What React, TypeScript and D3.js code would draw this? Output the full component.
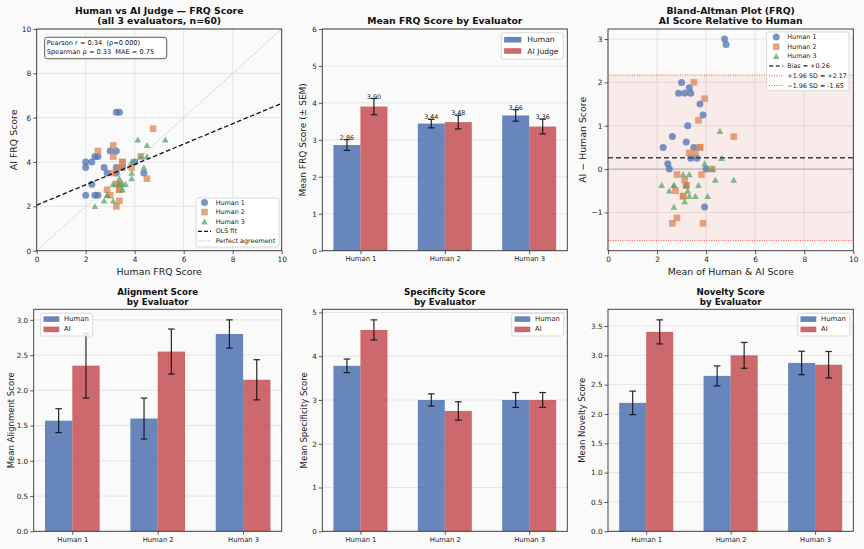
import { useEffect, useRef } from "react";
import * as d3 from "d3";

const FONT = "'DejaVu Sans', sans-serif";
const BLUE = "#4C72B0";
const ORANGE = "#DD8452";
const GREEN = "#55A868";
const RED = "#C44E52";

const evaluators = ["Human 1", "Human 2", "Human 3"];

// FRQ score per question, human rater vs AI judge (20 questions per rater)
const h1Human = [3.25, 3.375, 2, 2, 2.25, 2.375, 2.5, 3, 3.25, 2.75, 2.25, 2, 2.875, 3.25, 3.25, 3.5, 2.375, 2.5, 4, 4.375];
const h1AI = [6.25, 6.25, 4, 3.75, 4, 4.25, 4.25, 4.5, 4.5, 3.75, 3, 2.5, 3.5, 3.75, 3.5, 3.75, 2.5, 2.5, 4, 3.5];
const h2Human = [2.5, 3.125, 3.125, 4.75, 3.5, 3.125, 3.375, 4.25, 2.875, 3.875, 3.25, 3.375, 3, 3.375, 3.375, 3.25, 4.5, 3.5, 3.375, 3.375];
const h2AI = [4.5, 4.75, 4.25, 5.5, 4, 3.5, 3.75, 4.25, 2.75, 3.75, 3, 3, 2.5, 2.75, 2.25, 2, 3.25, 4, 3, 2.75];
const h3Human = [4.125, 4.5, 3.875, 4.25, 3.125, 3.375, 4.5, 5.25, 2.375, 2.875, 3.375, 3.875, 2.75, 3.5, 3.625, 3.875, 4.375, 3.5, 3.125, 2.875];
const h3AI = [5, 4.75, 4, 4.25, 3, 3.25, 4.25, 5, 2, 2.5, 3, 3.5, 2.25, 3, 3, 3.25, 3.75, 2.75, 2.25, 2.5];

const statsLines = ["Pearson r = 0.34  (p=0.000)", "Spearman ρ = 0.33  MAE = 0.75"];

// Bland-Altman summary
const bias = 0.26;
const loaHigh = 2.17;
const loaLow = -1.65;

// Mean FRQ by evaluator (± SEM)
const frqHuman = [2.86, 3.44, 3.66];
const frqAI = [3.9, 3.48, 3.36];
const frqHumanSem = [0.145, 0.115, 0.155];
const frqAISem = [0.22, 0.185, 0.2];

const alignHuman = [1.57, 1.6, 2.8];
const alignAI = [2.35, 2.55, 2.15];
const alignHumanSem = [0.17, 0.29, 0.2];
const alignAISem = [0.46, 0.32, 0.285];

const specHuman = [3.78, 3.0, 3.0];
const specAI = [4.6, 2.75, 3.0];
const specHumanSem = [0.155, 0.14, 0.17];
const specAISem = [0.23, 0.21, 0.17];

const novHuman = [2.19, 2.65, 2.87];
const novAI = [3.4, 3.0, 2.84];
const novHumanSem = [0.2, 0.17, 0.2];
const novAISem = [0.205, 0.22, 0.225];

type Box = { left: number; right: number; top: number; bottom: number };
type Sel = d3.Selection<SVGGElement, unknown, null, undefined>;

const layout: Record<string, Box> = {
  scatter: { left: 36.7, right: 281.7, top: 29, bottom: 250.7 },
  frq: { left: 322.3, right: 567.3, top: 29, bottom: 250.7 },
  bland: { left: 608, right: 853.3, top: 29, bottom: 250.7 },
  align: { left: 33.7, right: 281.7, top: 309.3, bottom: 531.3 },
  spec: { left: 322.3, right: 567.3, top: 309.3, bottom: 531.3 },
  novelty: { left: 608, right: 853.3, top: 309.3, bottom: 531.3 },
};

const series = [
  { label: "Human 1", kind: "circle", color: BLUE, human: h1Human, ai: h1AI },
  { label: "Human 2", kind: "square", color: ORANGE, human: h2Human, ai: h2AI },
  { label: "Human 3", kind: "triangle", color: GREEN, human: h3Human, ai: h3AI },
];

const minus = (v: number, f: (n: number) => string) => (v < 0 ? "\u2212" + f(-v) : f(v));

function marker(g: Sel, kind: string, cx: number, cy: number, color: string, opacity = 0.75) {
  if (kind === "circle") {
    g.append("circle").attr("cx", cx).attr("cy", cy).attr("r", 3.5).attr("fill", color).attr("opacity", opacity);
  } else if (kind === "square") {
    g.append("rect").attr("x", cx - 3.3).attr("y", cy - 3.3).attr("width", 6.6).attr("height", 6.6)
      .attr("fill", color).attr("opacity", opacity);
  } else {
    const s = 3.4;
    g.append("path").attr("d", `M${cx},${cy - s}L${cx - s},${cy + s * 0.8}L${cx + s},${cy + s * 0.8}Z`)
      .attr("fill", color).attr("opacity", opacity);
  }
}

function frame(g: Sel, b: Box) {
  g.append("rect").attr("x", b.left).attr("y", b.top)
    .attr("width", b.right - b.left).attr("height", b.bottom - b.top)
    .attr("fill", "none").attr("stroke", "#333").attr("stroke-width", 0.9);
}

function styleAxis(a: Sel, size: number) {
  a.select(".domain").remove();
  a.selectAll(".tick line").attr("stroke", "#333").attr("stroke-width", 0.8);
  a.selectAll(".tick text").attr("fill", "#222").attr("font-size", size).attr("font-family", FONT);
}

function title(g: Sel, cx: number, lines: string[], y0: number, size: number, lh: number) {
  lines.forEach((t, i) => {
    g.append("text").attr("x", cx).attr("y", y0 + i * lh).attr("text-anchor", "middle")
      .attr("dominant-baseline", "central").attr("font-weight", "bold").attr("font-size", size)
      .attr("fill", "#111").text(t);
  });
}

function yLabel(g: Sel, x: number, cy: number, text: string, size: number) {
  g.append("text").attr("transform", `translate(${x},${cy}) rotate(-90)`).attr("text-anchor", "middle")
    .attr("dominant-baseline", "central").attr("font-size", size).attr("fill", "#222").text(text);
}

function xLabel(g: Sel, cx: number, y: number, text: string, size: number) {
  g.append("text").attr("x", cx).attr("y", y).attr("text-anchor", "middle")
    .attr("dominant-baseline", "central").attr("font-size", size).attr("fill", "#222").text(text);
}

type LegendItem = { label: string; kind: string; color: string; dash?: string; width?: number };
type LegendGeo = { x: number; y: number; w: number; h: number; row0: number; rowH: number; hx0: number; hx1: number; tx: number; font: number };

function legend(g: Sel, geo: LegendGeo, items: LegendItem[]) {
  g.append("rect").attr("x", geo.x).attr("y", geo.y).attr("width", geo.w).attr("height", geo.h)
    .attr("rx", 2).attr("fill", "#ffffff").attr("fill-opacity", 0.85).attr("stroke", "#d0d0d0").attr("stroke-width", 0.8);
  items.forEach((it, i) => {
    const cy = geo.y + geo.row0 + i * geo.rowH;
    const x0 = geo.x + geo.hx0;
    const x1 = geo.x + geo.hx1;
    if (it.kind === "line") {
      g.append("line").attr("x1", x0).attr("x2", x1).attr("y1", cy).attr("y2", cy)
        .attr("stroke", it.color).attr("stroke-width", it.width ?? 1).attr("stroke-dasharray", it.dash ?? null);
    } else if (it.kind === "patch") {
      g.append("rect").attr("x", x0).attr("y", cy - 2.8).attr("width", x1 - x0).attr("height", 5.6)
        .attr("fill", it.color).attr("opacity", 0.85);
    } else {
      marker(g, it.kind, (x0 + x1) / 2, cy, it.color);
    }
    g.append("text").attr("x", geo.x + geo.tx).attr("y", cy).attr("dominant-baseline", "central")
      .attr("font-size", geo.font).attr("fill", "#222").text(it.label);
  });
}

function grid(g: Sel, b: Box, x: d3.ScaleLinear<number, number> | null, xt: number[], y: d3.ScaleLinear<number, number>, yt: number[]) {
  const gg = g.append("g").attr("stroke", "#e4e4e4").attr("stroke-width", 1);
  if (x) xt.forEach((v) => gg.append("line").attr("x1", x(v)).attr("x2", x(v)).attr("y1", b.top).attr("y2", b.bottom));
  yt.forEach((v) => gg.append("line").attr("x1", b.left).attr("x2", b.right).attr("y1", y(v)).attr("y2", y(v)));
}

function drawScatter(g: Sel) {
  const b = layout.scatter;
  const x = d3.scaleLinear().domain([0, 10]).range([b.left, b.right]);
  const y = d3.scaleLinear().domain([0, 10]).range([b.bottom, b.top]);
  const ticks = d3.range(0, 11, 2);
  grid(g, b, x, ticks, y, ticks);

  series.forEach((s) => s.human.forEach((h, i) => marker(g, s.kind, x(h), y(s.ai[i]), s.color)));

  // least-squares fit over all raters
  const xs = series.flatMap((s) => s.human);
  const ys = series.flatMap((s) => s.ai);
  const mx = d3.mean(xs)!;
  const my = d3.mean(ys)!;
  const slope = d3.sum(xs, (v, i) => (v - mx) * (ys[i] - my)) / d3.sum(xs, (v) => (v - mx) ** 2);
  const icpt = my - slope * mx;

  g.append("line").attr("x1", x(0)).attr("y1", y(0)).attr("x2", x(10)).attr("y2", y(10))
    .attr("stroke", "#999").attr("stroke-width", 0.8).attr("stroke-dasharray", "1,1.5");
  g.append("line").attr("x1", x(0)).attr("y1", y(icpt)).attr("x2", x(10)).attr("y2", y(icpt + slope * 10))
    .attr("stroke", "#111").attr("stroke-width", 1.3).attr("stroke-dasharray", "4.5,2.5");

  frame(g, b);
  const ax = g.append("g").attr("transform", `translate(0,${b.bottom})`)
    .call(d3.axisBottom(x).tickValues(ticks).tickFormat((d) => String(d)).tickSize(3.5).tickPadding(2.5));
  styleAxis(ax, 7.4);
  const ay = g.append("g").attr("transform", `translate(${b.left},0)`)
    .call(d3.axisLeft(y).tickValues(ticks).tickFormat((d) => String(d)).tickSize(3.5).tickPadding(2));
  styleAxis(ay, 7.4);

  title(g, (b.left + b.right) / 2, ["Human vs AI Judge — FRQ Score", "(all 3 evaluators, n=60)"], 10, 9.3, 10.7);
  xLabel(g, (b.left + b.right) / 2, 271.7, "Human FRQ Score", 9.4);
  yLabel(g, 13.3, (b.top + b.bottom) / 2, "AI FRQ Score", 9.4);

  g.append("rect").attr("x", 44.7).attr("y", 37.3).attr("width", 122).attr("height", 21.4).attr("rx", 2.5)
    .attr("fill", "#fff").attr("stroke", "#333").attr("stroke-width", 0.8);
  statsLines.forEach((t, i) => {
    g.append("text").attr("x", 46.8).attr("y", 43 + i * 9.2).attr("dominant-baseline", "central")
      .style("white-space", "pre").attr("font-size", 6.6).attr("fill", "#111").text(t);
  });

  legend(g, { x: 196, y: 198, w: 83, h: 49, row0: 4.5, rowH: 9.6, hx0: 2, hx1: 15, tx: 19.7, font: 6.4 }, [
    ...series.map((s) => ({ label: s.label, kind: s.kind, color: s.color })),
    { label: "OLS fit", kind: "line", color: "#111", dash: "4,2", width: 1.3 },
    { label: "Perfect agreement", kind: "line", color: "#999", dash: "1,1.5", width: 0.8 },
  ]);
}

function drawBland(g: Sel) {
  const b = layout.bland;
  const means = series.map((s) => s.human.map((h, i) => (h + s.ai[i]) / 2));
  const diffs = series.map((s) => s.human.map((h, i) => s.ai[i] - h));
  const lo = Math.min(d3.min(diffs.flat())!, loaLow);
  const hi = Math.max(d3.max(diffs.flat())!, loaHigh);
  const pad = (hi - lo) * 0.05;
  const x = d3.scaleLinear().domain([0, 10]).range([b.left, b.right]);
  const y = d3.scaleLinear().domain([lo - pad, hi + pad]).range([b.bottom, b.top]);
  const xt = d3.range(0, 11, 2);
  const yt = [-1, 0, 1, 2, 3];
  grid(g, b, x, xt, y, yt);

  g.append("rect").attr("x", b.left).attr("width", b.right - b.left)
    .attr("y", y(loaHigh)).attr("height", y(loaLow) - y(loaHigh)).attr("fill", "#ff3030").attr("opacity", 0.07);
  g.append("line").attr("x1", b.left).attr("x2", b.right).attr("y1", y(0)).attr("y2", y(0))
    .attr("stroke", "#aaa").attr("stroke-width", 1);

  series.forEach((s, k) => means[k].forEach((m, i) => marker(g, s.kind, x(m), y(diffs[k][i]), s.color)));

  g.append("line").attr("x1", b.left).attr("x2", b.right).attr("y1", y(bias)).attr("y2", y(bias))
    .attr("stroke", "#444").attr("stroke-width", 1.5).attr("stroke-dasharray", "5,3");
  [loaHigh, loaLow].forEach((v) => {
    g.append("line").attr("x1", b.left).attr("x2", b.right).attr("y1", y(v)).attr("y2", y(v))
      .attr("stroke", "#ff2020").attr("stroke-opacity", 0.75).attr("stroke-width", 1).attr("stroke-dasharray", "1,1.4");
  });

  frame(g, b);
  const ax = g.append("g").attr("transform", `translate(0,${b.bottom})`)
    .call(d3.axisBottom(x).tickValues(xt).tickFormat((d) => String(d)).tickSize(3.5).tickPadding(2.5));
  styleAxis(ax, 7.4);
  const ay = g.append("g").attr("transform", `translate(${b.left},0)`)
    .call(d3.axisLeft(y).tickValues(yt).tickFormat((d) => minus(+d, String)).tickSize(3.5).tickPadding(2));
  styleAxis(ay, 7.4);

  title(g, (b.left + b.right) / 2, ["Bland-Altman Plot (FRQ)", "AI Score Relative to Human"], 10, 9.3, 10.7);
  xLabel(g, (b.left + b.right) / 2, 271.7, "Mean of Human & AI Score", 9.4);
  yLabel(g, 582.3, (b.top + b.bottom) / 2, "AI \u2212 Human Score", 9.4);

  const f2 = (v: number) => v.toFixed(2);
  legend(g, { x: 766.7, y: 32, w: 82.3, h: 58.7, row0: 5, rowH: 9.7, hx0: 2.5, hx1: 16.5, tx: 20.6, font: 6.4 }, [
    ...series.map((s) => ({ label: s.label, kind: s.kind, color: s.color })),
    { label: `Bias = +${f2(bias)}`, kind: "line", color: "#444", dash: "4,2.5", width: 1.5 },
    { label: `+1.96 SD = +${f2(loaHigh)}`, kind: "line", color: "#ff5050", dash: "1,1.4", width: 1 },
    { label: `\u22121.96 SD = ${f2(loaLow)}`, kind: "line", color: "#ff5050", dash: "1,1.4", width: 1 },
  ]);
}

type BarCfg = {
  box: Box;
  human: number[];
  ai: number[];
  humanSem: number[];
  aiSem: number[];
  yMax?: number;
  yStep: number;
  yFmt: (v: number) => string;
  titleLines: string[];
  titleY: number;
  titleSize: number;
  yLabelText: string;
  yLabelX: number;
  yLabelSize: number;
  legendLabels: string[];
  legendGeo: LegendGeo;
  valueLabels?: boolean;
};

function drawBars(g: Sel, c: BarCfg) {
  const b = c.box;
  const w = 0.32;
  const span = 2 + 2 * w;
  const x = d3.scaleLinear().domain([-w - span * 0.05, 2 + w + span * 0.05]).range([b.left, b.right]);
  const top = c.yMax ?? d3.max([...c.human.map((v, i) => v + c.humanSem[i]), ...c.ai.map((v, i) => v + c.aiSem[i])])! * 1.05;
  const y = d3.scaleLinear().domain([0, top]).range([b.bottom, b.top]);
  const yt = d3.range(0, top + 1e-9, c.yStep);
  grid(g, b, null, [], y, yt);

  const groups = [
    { vals: c.human, sem: c.humanSem, color: BLUE, off: -w },
    { vals: c.ai, sem: c.aiSem, color: RED, off: 0 },
  ];
  groups.forEach((gr) => {
    gr.vals.forEach((v, i) => {
      g.append("rect").attr("x", x(i + gr.off)).attr("width", x(i + gr.off + w) - x(i + gr.off))
        .attr("y", y(v)).attr("height", y(0) - y(v)).attr("fill", gr.color).attr("opacity", 0.85);
    });
  });
  groups.forEach((gr) => {
    gr.vals.forEach((v, i) => {
      const cx = x(i + gr.off + w / 2);
      const e = g.append("g").attr("stroke", "#111").attr("stroke-width", 1.2).attr("stroke-opacity", 0.9);
      e.append("line").attr("x1", cx).attr("x2", cx).attr("y1", y(v - gr.sem[i])).attr("y2", y(v + gr.sem[i]));
      [v - gr.sem[i], v + gr.sem[i]].forEach((t) =>
        e.append("line").attr("x1", cx - 3.3).attr("x2", cx + 3.3).attr("y1", y(t)).attr("y2", y(t)));
      if (c.valueLabels) {
        g.append("text").attr("x", cx).attr("y", y(v + gr.sem[i] + 0.05)).attr("text-anchor", "middle")
          .attr("dominant-baseline", "central").attr("font-size", 6.4).attr("fill", "#222").text(v.toFixed(2));
      }
    });
  });

  frame(g, b);
  const ax = g.append("g").attr("transform", `translate(0,${b.bottom})`)
    .call(d3.axisBottom(x).tickValues([0, 1, 2]).tickFormat((d) => evaluators[+d]).tickSize(3.5).tickPadding(2));
  styleAxis(ax, 6.8);
  const ay = g.append("g").attr("transform", `translate(${b.left},0)`)
    .call(d3.axisLeft(y).tickValues(yt).tickFormat((d) => c.yFmt(+d)).tickSize(3.5).tickPadding(2));
  styleAxis(ay, 7.2);

  title(g, (b.left + b.right) / 2, c.titleLines, c.titleY, c.titleSize, 10);
  yLabel(g, c.yLabelX, (b.top + b.bottom) / 2, c.yLabelText, c.yLabelSize);
  legend(g, c.legendGeo, [
    { label: c.legendLabels[0], kind: "patch", color: BLUE },
    { label: c.legendLabels[1], kind: "patch", color: RED },
  ]);
}

const smallLegend = (x: number): LegendGeo => ({ x, y: 313.3, w: 52, h: 22.7, row0: 5.8, rowH: 10.3, hx0: 2.8, hx1: 18.6, tx: 23.3, font: 6.9 });

export default function App() {
  const ref = useRef<SVGSVGElement>(null);

  useEffect(() => {
    if (!ref.current) return;
    const svg = d3.select(ref.current);
    svg.selectAll("*").remove();
    svg.append("rect").attr("width", 864).attr("height", 549).attr("fill", "#fafafa");
    const g = svg.append("g").attr("font-family", FONT) as unknown as Sel;

    drawScatter(g);
    drawBars(g, {
      box: layout.frq, human: frqHuman, ai: frqAI, humanSem: frqHumanSem, aiSem: frqAISem,
      yMax: 6, yStep: 1, yFmt: (v) => String(v),
      titleLines: ["Mean FRQ Score by Evaluator"], titleY: 20.7, titleSize: 9.3,
      yLabelText: "Mean FRQ Score (\u00b1 SEM)", yLabelX: 303.3, yLabelSize: 9,
      legendLabels: ["Human", "AI Judge"],
      legendGeo: { x: 501.3, y: 32.7, w: 62, h: 26.6, row0: 7, rowH: 11.3, hx0: 2.8, hx1: 20, tx: 26, font: 7.6 },
      valueLabels: true,
    });
    drawBland(g);

    drawBars(g, {
      box: layout.align, human: alignHuman, ai: alignAI, humanSem: alignHumanSem, aiSem: alignAISem,
      yStep: 0.5, yFmt: (v) => v.toFixed(1),
      titleLines: ["Alignment Score", "by Evaluator"], titleY: 292, titleSize: 8.7,
      yLabelText: "Mean Alignment Score", yLabelX: 10.7, yLabelSize: 8.5,
      legendLabels: ["Human", "AI"], legendGeo: smallLegend(40.7),
    });
    drawBars(g, {
      box: layout.spec, human: specHuman, ai: specAI, humanSem: specHumanSem, aiSem: specAISem,
      yStep: 1, yFmt: (v) => String(v),
      titleLines: ["Specificity Score", "by Evaluator"], titleY: 292, titleSize: 8.7,
      yLabelText: "Mean Specificity Score", yLabelX: 304, yLabelSize: 8.5,
      legendLabels: ["Human", "AI"], legendGeo: smallLegend(511.7),
    });
    drawBars(g, {
      box: layout.novelty, human: novHuman, ai: novAI, humanSem: novHumanSem, aiSem: novAISem,
      yStep: 0.5, yFmt: (v) => v.toFixed(1),
      titleLines: ["Novelty Score", "by Evaluator"], titleY: 292, titleSize: 8.7,
      yLabelText: "Mean Novelty Score", yLabelX: 581.7, yLabelSize: 8.5,
      legendLabels: ["Human", "AI"], legendGeo: smallLegend(797.7),
    });
  }, []);

  return <svg ref={ref} width={864} height={549} style={{ position: "absolute", left: 0, top: 0 }} />;
}
